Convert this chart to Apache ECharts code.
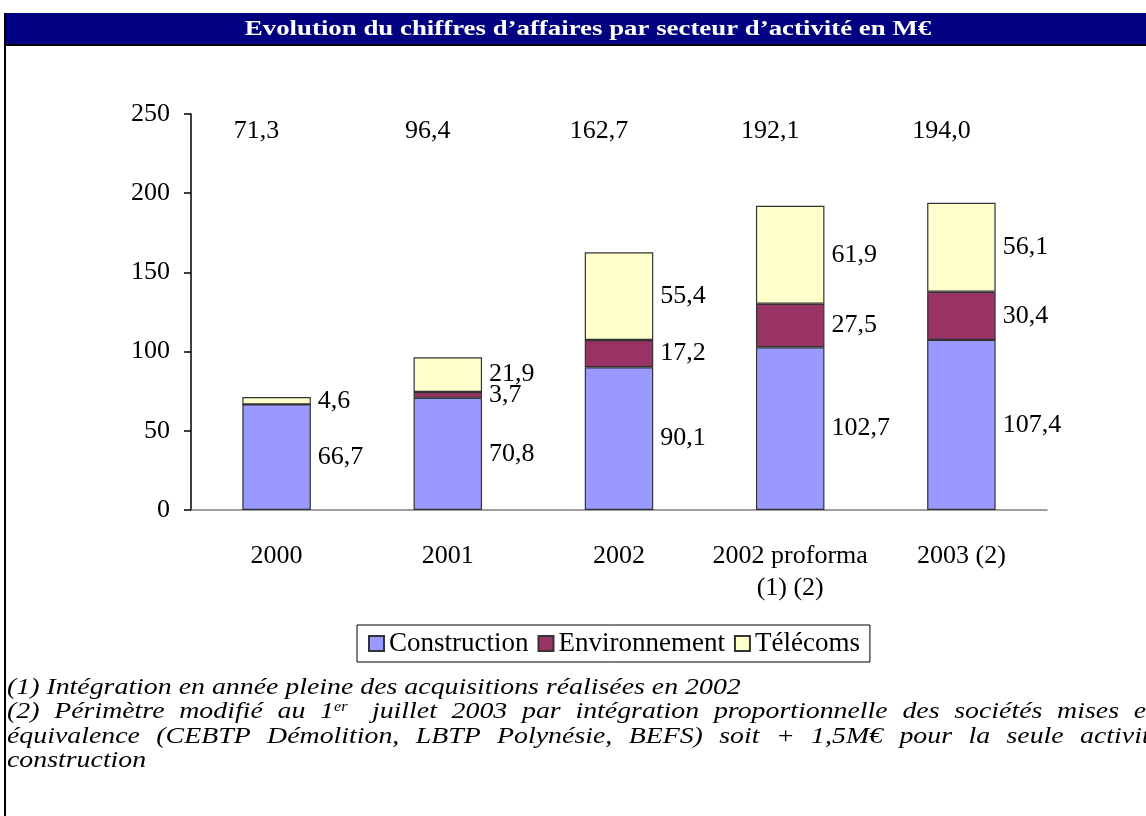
<!DOCTYPE html>
<html>
<head>
<meta charset="utf-8">
<script src="https://cdn.jsdelivr.net/npm/echarts@6/dist/echarts.min.js"></script>
<style>
  html, body { margin: 0; padding: 0; background: #fff; }
  #chart { width: 1146px; height: 816px; }
</style>
</head>
<body>
<div id="chart"></div>
<script>
  const categories = ['2000', '2001', '2002', '2002 proforma\n(1) (2)', '2003 (2)'];
  const construction = [66.7, 70.8, 90.1, 102.7, 107.4];
  const environnement = [0, 3.7, 17.2, 27.5, 30.4];
  const telecoms = [4.6, 21.9, 55.4, 61.9, 56.1];
  const totals = [71.3, 96.4, 162.7, 192.1, 194.0];
  const yTicks = { min: 0, max: 250, interval: 50 };

  const serif = 'Liberation Serif';
  const fmt = v => v.toFixed(1).replace('.', ',');

  const chart = echarts.init(document.getElementById('chart'));

  const noteSize = 24;
  const noteScale = 1.16;
  const noteStyle = { fill: '#000', fontFamily: serif, fontStyle: 'italic', fontSize: noteSize };

  // justified footnote line, words spread between x0 and x1
  function justify(words, y, x0, x1) {
    const ctx = document.createElement('canvas').getContext('2d');
    ctx.font = 'italic ' + noteSize + 'px ' + serif;
    let total = 0;
    const w = words.map(s => {
      const m = ctx.measureText(s.replace(/\{sup\|([^}]*)\}/, '$1')).width * noteScale;
      total += m;
      return m;
    });
    const gap = (x1 - x0 - total) / (words.length - 1);
    let x = x0;
    return words.map((s, i) => {
      const el = {
        type: 'text', x: x, y: y, scaleX: noteScale,
        style: Object.assign({
          text: s,
          rich: { sup: { fontSize: 14, fontStyle: 'italic', fontFamily: serif, verticalAlign: 'top', padding: [0, 0, 10, 0] } }
        }, noteStyle)
      };
      x += w[i] + gap;
      return el;
    });
  }

  const line2 = ['(2)', 'Périmètre', 'modifié', 'au', '1{sup|er}', 'juillet', '2003', 'par', 'intégration',
    'proportionnelle', 'des', 'sociétés', 'mises', 'en'];
  const line3 = ['équivalence', '(CEBTP', 'Démolition,', 'LBTP', 'Polynésie,', 'BEFS)', 'soit', '+', '1,5M€',
    'pour', 'la', 'seule', 'activité'];

  const barLabel = {
    show: true,
    position: 'right',
    distance: 7,
    fontFamily: serif,
    fontSize: 26,
    color: '#000',
    formatter: p => p.value ? fmt(p.value) : ''
  };

  chart.setOption({
    animation: false,
    color: ['#9999FF', '#993366', '#FFFFCC'],
    textStyle: { fontFamily: serif },
    graphic: [
      { type: 'rect', shape: { x: 4, y: 13, width: 1142, height: 32 }, style: { fill: '#000080' } },
      { type: 'rect', shape: { x: 4, y: 44, width: 1142, height: 2 }, style: { fill: '#000' } },
      { type: 'rect', shape: { x: 4, y: 13, width: 2, height: 803 }, style: { fill: '#000' } },
      {
        type: 'text', x: 588, y: 29, scaleX: 1.22,
        style: {
          text: 'Evolution du chiffres d’affaires par secteur d’activité en M€',
          fill: '#fff', fontFamily: serif, fontWeight: 'bold', fontSize: 22, align: 'center', verticalAlign: 'middle'
        }
      },
      {
        type: 'text', x: 7, y: 676, scaleX: noteScale,
        style: Object.assign({ text: '(1) Intégration en année pleine des acquisitions réalisées en 2002' }, noteStyle)
      }
    ].concat(justify(line2, 700, 7, 1160)).concat(justify(line3, 725, 7, 1162)).concat([
      {
        type: 'text', x: 7, y: 749, scaleX: noteScale,
        style: Object.assign({ text: 'construction' }, noteStyle)
      }
    ]),
    legend: {
      bottom: 154,
      left: 357,
      icon: 'rect',
      itemWidth: 15,
      itemHeight: 15,
      itemGap: 9,
      padding: [5, 10, 5, 11],
      borderColor: '#000',
      borderWidth: 1,
      borderRadius: 0,
      textStyle: { fontFamily: serif, fontSize: 27, color: '#000' },
      data: ['Construction', 'Environnement', 'Télécoms']
    },
    grid: { left: 191, right: 99, top: 114, bottom: 306 },
    xAxis: [
      {
        type: 'category',
        data: categories,
        axisLine: { lineStyle: { color: '#808080', width: 1.5 } },
        axisTick: { length: 8, lineStyle: { color: '#000', width: 1.5 } },
        axisLabel: { interval: 0, fontFamily: serif, fontSize: 26, color: '#000', margin: 30, lineHeight: 32 }
      },
      {
        type: 'category',
        position: 'top',
        data: totals.map(fmt),
        axisLine: { show: false },
        axisTick: { show: false },
        axisLabel: { interval: 0, inside: true, margin: 4, fontFamily: serif, fontSize: 26, color: '#000', padding: [0, 40, 0, 0] }
      }
    ],
    yAxis: {
      type: 'value',
      min: yTicks.min,
      max: yTicks.max,
      interval: yTicks.interval,
      splitLine: { show: false },
      axisLine: { show: true, lineStyle: { color: '#000', width: 1.5 } },
      axisTick: { show: true, length: 7, lineStyle: { color: '#000', width: 1.5 } },
      axisLabel: { fontFamily: serif, fontSize: 26, color: '#000', margin: 21 }
    },
    series: [
      { name: 'Construction', type: 'bar', stack: 'ca', data: construction, barWidth: '40%' },
      { name: 'Environnement', type: 'bar', stack: 'ca', data: environnement },
      { name: 'Télécoms', type: 'bar', stack: 'ca', data: telecoms }
    ].map(s => Object.assign(s, {
      itemStyle: { borderColor: '#333', borderWidth: 1.2 },
      label: barLabel
    }))
  });
</script>
</body>
</html>
